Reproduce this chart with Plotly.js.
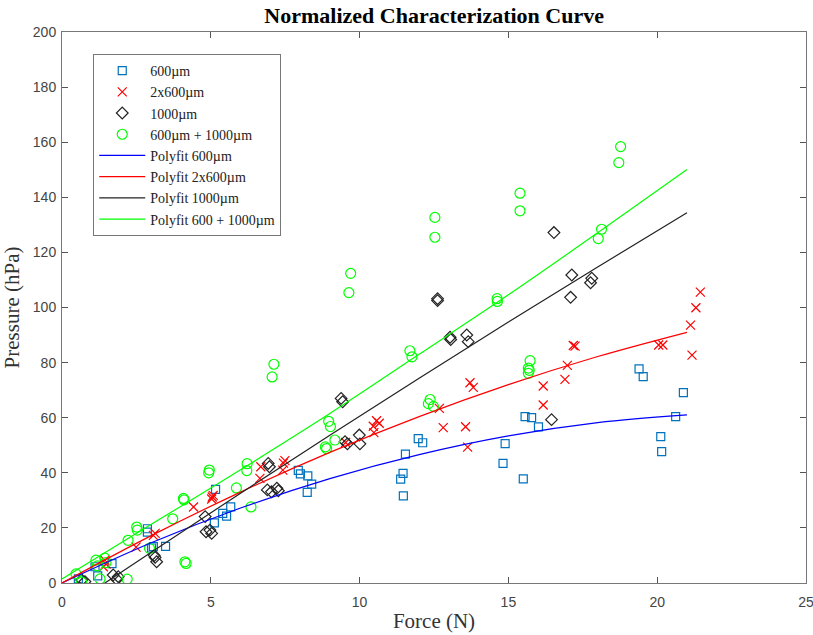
<!DOCTYPE html>
<html>
<head>
<meta charset="utf-8">
<script src="https://cdn.plot.ly/plotly-3.0.1.min.js"></script>
<style>html,body{margin:0;padding:0;background:#fff;}#chart{width:813px;height:635px;}</style>
</head>
<body>
<div id="chart"></div>
<script>
// ---- data ----
const seriesNames = ["600µm", "2x600µm", "1000µm", "600µm + 1000µm"];
const fitNames = ["Polyfit 600µm", "Polyfit 2x600µm", "Polyfit 1000µm", "Polyfit 600 + 1000µm"];

const x600 = [0.55,1.11,1.20,1.68,2.87,2.87,3.01,3.07,3.48,5.16,5.12,5.40,5.53,5.67,7.94,8.01,8.26,8.39,8.24,11.97,12.12,11.54,11.46,11.38,11.47,14.89,14.82,15.50,15.56,15.78,16.01,19.39,19.53,20.88,20.62,20.12,20.15];
const y600 = [1.5,5.9,2.6,7.0,19.7,18.5,12.7,13.2,13.3,34.0,21.8,25.3,24.3,27.6,40.9,39.6,38.9,35.9,32.9,52.4,50.9,46.8,39.8,37.7,31.6,50.6,43.4,37.8,60.4,60.0,56.7,77.7,74.9,69.1,60.4,53.1,47.7];

const x2x600 = [1.39,1.48,1.44,2.49,3.13,3.07,4.42,5.05,5.08,5.03,6.68,6.65,7.44,7.42,7.49,9.53,10.57,10.66,10.46,10.48,12.68,12.81,13.56,13.63,13.71,13.82,16.17,16.17,16.90,16.98,17.18,17.24,20.05,20.19,21.12,21.30,21.45,21.17];
const y2x600 = [5.9,6.9,8.3,13.0,18.0,17.3,27.6,31.2,31.8,30.5,42.2,38.0,43.5,41.0,44.4,51.0,58.9,58.0,56.9,54.6,63.4,56.4,56.7,49.3,72.7,71.0,71.5,64.6,73.9,79.0,86.2,86.0,86.4,86.4,93.6,99.9,105.6,82.7];

const x1000 = [0.66,0.77,1.72,1.89,1.84,3.13,3.18,3.10,4.81,4.84,4.97,5.03,6.93,6.97,6.90,7.04,7.22,7.27,9.38,9.43,9.51,9.59,9.99,10.01,12.62,12.62,13.04,13.06,13.60,13.65,16.45,16.53,17.13,17.09,17.80,17.76];
const y1000 = [1.1,0.5,2.9,2.3,1.3,9.3,7.7,10.0,24.1,18.6,19.2,18.0,43.4,42.2,33.8,33.1,34.4,33.5,67.0,65.8,51.3,50.5,53.7,50.5,103.2,102.5,89.2,88.4,90.0,87.6,59.3,127.2,111.8,103.7,110.6,109.0];

const x600p1000 = [0.47,0.66,1.14,1.19,1.44,1.48,1.28,2.19,2.22,2.51,2.53,2.94,3.72,4.08,4.10,4.13,4.17,4.95,4.93,5.86,6.22,6.21,6.35,7.12,7.06,8.96,9.02,9.17,8.85,8.89,9.70,9.64,11.69,11.76,12.37,12.31,12.48,12.53,12.53,14.62,14.63,15.39,15.39,15.73,15.67,15.70,15.67,18.13,18.02,18.77,18.71];
const y600p1000 = [3.3,0.3,8.3,6.2,9.0,7.4,1.5,1.4,15.5,20.3,19.2,12.6,23.3,30.7,30.2,7.7,7.1,41.0,40.0,34.5,43.3,40.8,27.6,79.4,74.8,58.7,56.8,51.9,49.4,48.8,112.4,105.4,84.3,82.1,66.6,65.1,64.1,132.7,125.5,103.2,102.2,141.5,135.1,80.7,78.0,77.2,76.1,128.4,125.0,158.4,152.6];

// fitted curves
const fitX = [0,3,6,9,12,15,18,21];
const fit600 = [0,14.6,27.2,37.9,46.6,53.4,58.2,61.0];
const fit2x600 = [0,17.2,33.0,47.4,60.4,72.0,82.2,91.0];
const fit1000 = [-10.4,11.2,32.6,53.6,74.3,94.7,114.7,134.4];
const fit600p1000 = [1.5,21.3,41.1,61.5,83.0,104.6,127.1,150.1];

const xTicks = [0,5,10,15,20,25];
const yTicks = [0,20,40,60,80,100,120,140,160,180,200];

// ---- styles ----
const cBlueM = "#0072BD", cRed = "#FF0000", cGreen = "#00FF00", cBlueL = "#0000FF", cDark = "#222";

const traces = [
  {x:x600, y:y600, name:seriesNames[0], mode:"markers", type:"scatter",
   marker:{symbol:"square-open", size:8, color:cBlueM, line:{width:1.2, color:cBlueM}}},
  {x:x2x600, y:y2x600, name:seriesNames[1], mode:"markers", type:"scatter",
   marker:{symbol:"x-thin-open", size:9, color:cRed, line:{width:1.2, color:cRed}}},
  {x:x1000, y:y1000, name:seriesNames[2], mode:"markers", type:"scatter",
   marker:{symbol:"diamond-open", size:9, color:cDark, line:{width:1.2, color:cDark}}},
  {x:x600p1000, y:y600p1000, name:seriesNames[3], mode:"markers", type:"scatter",
   marker:{symbol:"circle-open", size:10, color:cGreen, line:{width:1.2, color:cGreen}}},
  {x:fitX, y:fit600, name:fitNames[0], mode:"lines", type:"scatter", line:{color:cBlueL, width:1.2, shape:"spline"}},
  {x:fitX, y:fit2x600, name:fitNames[1], mode:"lines", type:"scatter", line:{color:cRed, width:1.2, shape:"spline"}},
  {x:fitX, y:fit1000, name:fitNames[2], mode:"lines", type:"scatter", line:{color:cDark, width:1.2, shape:"spline"}},
  {x:fitX, y:fit600p1000, name:fitNames[3], mode:"lines", type:"scatter", line:{color:cGreen, width:1.2, shape:"spline"}}
];

const serif = "Liberation Serif, Times New Roman, serif";
const tickFont = {family:"Liberation Sans Narrow, Liberation Sans, Arial, sans-serif", size:14, color:"#444"};
const axisCommon = {
  showgrid:false, zeroline:false, showline:true, linecolor:"#777", linewidth:1, mirror:"ticks",
  ticks:"inside", ticklen:6, tickcolor:"#555", tickwidth:1, tickfont:tickFont, ticklabeloverflow:"allow"
};

const layout = {
  width:813, height:635,
  margin:{l:62, r:7, t:32, b:52},
  paper_bgcolor:"#fff", plot_bgcolor:"#fff",
  title:{text:"<b>Normalized Characterization Curve</b>", x:0.534, xanchor:"center", y:0.976, yanchor:"middle",
         font:{family:serif, size:22, color:"#000"}},
  xaxis:Object.assign({}, axisCommon, {range:[0,25], tickvals:xTicks, ticktext:xTicks.map(String), ticklabelstandoff:6,
         title:{text:"Force (N)", standoff:4, font:{family:serif, size:21, color:"#333"}}}),
  yaxis:Object.assign({}, axisCommon, {range:[0,200], tickvals:yTicks, ticktext:yTicks.map(String), ticklabelstandoff:2,
         title:{text:"Pressure (hPa)", standoff:8, font:{family:serif, size:21, color:"#333"}}}),
  showlegend:true,
  legend:{x:0.042, y:0.96, xanchor:"left", yanchor:"top", bgcolor:"#fff", bordercolor:"#777", borderwidth:1,
          font:{family:serif, size:14, color:"#222"},
          itemwidth:46, tracegroupgap:0}
};

Plotly.newPlot("chart", traces, layout, {displayModeBar:false, staticPlot:true});
</script>
</body>
</html>
